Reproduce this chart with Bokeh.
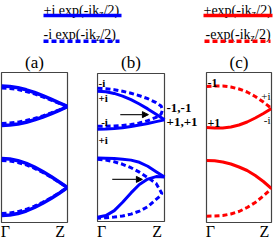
from bokeh.plotting import figure
from bokeh.layouts import column, row
from bokeh.models import Label, Arrow, NormalHead, FixedTicker, Range1d
from bokeh.core.properties import value
from bokeh.embed import file_html
from bokeh.resources import INLINE

FONT = "Liberation Serif"
BLUE = "#0000ff"
RED = "#ff0000"

# ---------------- data (k from Gamma=0 to Z=1, energy in arbitrary units) -------------
K = [0, 0.125, 0.25, 0.375, 0.5, 0.625, 0.75, 0.875, 1.0]
TICK_POS = [0.06, 0.89]
TICK_LABELS = ["Γ", "Z"]
PANEL_TITLES = ["(a)", "(b)", "(c)"]
E_MIN, E_MAX = 0, 15

# panel (a)
a_up_top = [13.65, 13.61, 13.48, 13.27, 13.0, 12.68, 12.33, 11.97, 11.6]
a_up_bot = [9.7, 9.74, 9.85, 10.03, 10.27, 10.55, 10.87, 11.22, 11.6]
a_up_dtop = [13.45, 13.41, 13.3, 13.1, 12.86, 12.57, 12.25, 11.92, 11.6]
a_up_dbot = [9.9, 9.94, 10.04, 10.2, 10.41, 10.66, 10.95, 11.26, 11.6]
a_lo_top = [6.4, 6.35, 6.18, 5.92, 5.55, 5.1, 4.6, 4.05, 3.5]
a_lo_bot = [0.7, 0.75, 0.9, 1.15, 1.5, 1.92, 2.4, 2.93, 3.5]
a_lo_dtop = [6.2, 6.15, 6.0, 5.76, 5.42, 5.0, 4.53, 4.02, 3.5]
a_lo_dbot = [0.9, 0.95, 1.09, 1.32, 1.63, 2.02, 2.47, 2.97, 3.5]

# panel (b)
b_up_top = [13.2, 13.15, 12.98, 12.71, 12.35, 11.91, 11.41, 10.87, 10.3]
b_up_bot = [9.35, 9.37, 9.42, 9.5, 9.62, 9.77, 9.94, 10.12, 10.3]
b_up_dash_k = [0, 0.125, 0.25, 0.375, 0.5, 0.625, 0.75, 0.875, 0.95, 0.97,
               0.95, 0.875, 0.75, 0.625, 0.5, 0.375, 0.25, 0.125, 0]
b_up_dash_e = [13.5, 13.46, 13.36, 13.2, 13.0, 12.75, 12.45, 12.05, 11.7, 11.3,
               10.9, 10.55, 10.22, 9.98, 9.83, 9.74, 9.69, 9.66, 9.65]
b_lo_top = [6.43, 6.42, 6.38, 6.32, 6.22, 6.0, 5.6, 5.05, 4.5]
b_lo_bot = [0.43, 0.6, 1.1, 1.95, 2.9, 3.75, 4.3, 4.55, 4.5]
b_lo_dash_k = [0, 0.125, 0.25, 0.375, 0.5, 0.625, 0.75, 0.875, 0.94, 0.96,
               0.94, 0.875, 0.75, 0.625, 0.5, 0.375, 0.25, 0.125, 0]
b_lo_dash_e = [6.3, 6.22, 6.05, 5.8, 5.45, 5.0, 4.45, 3.85, 3.1, 2.85,
               2.6, 2.25, 1.5, 1.05, 0.75, 0.56, 0.45, 0.38, 0.33]
b_arrow_k0 = [0.34, 0.22]
b_arrow_k1 = [0.76, 0.67]
b_arrow_e = [10.83, 4.27]
b_labels = ["-i", "+i", "-i", "+i"]
b_labels_k = [0.0, 0.0, 0.04, 0.0]
b_labels_e = [14.0, 12.5, 10.1, 8.3]
b_side_labels = ["-1,-1", "+1,+1"]
b_side_e = [11.5, 10.1]

# panel (c)
c_up_dtop = [13.6, 13.65, 13.65, 13.55, 13.35, 13.05, 12.6, 12.05, 11.4]
c_up_sbot = [9.5, 9.45, 9.45, 9.55, 9.75, 10.05, 10.45, 10.9, 11.4]
c_lo_stop = [6.2, 6.17, 6.05, 5.85, 5.55, 5.2, 4.7, 4.1, 3.4]
c_lo_dbot = [0.63, 0.65, 0.7, 0.85, 1.1, 1.5, 2.0, 2.65, 3.4]
c_left_labels = ["-1", "+1"]
c_left_e = [14.0, 10.0]
c_right_labels = ["+i", "-i"]
c_right_e = [12.7, 10.3]

# legend
LEG_L = ["+i exp(-ik", "-i exp(-ik"]
LEG_R = ["+exp(-ik", "-exp(-ik"]
LEG_SUB = "z"
LEG_END = "/2)"

# --------------------------------------------------------------------------------------
DASH = "5 3"
LW = 3
BOX = "#444444"
PANEL_H = 194

# Times / Liberation Serif advance widths (em)
W = {'+': 0.564, '-': 0.333, 'i': 0.278, ' ': 0.25, 'e': 0.444, 'x': 0.5, 'p': 0.5,
     '(': 0.333, ')': 0.333, 'k': 0.5, 'z': 0.444, '/': 0.278, '2': 0.5, 'a': 0.444,
     'b': 0.5, 'c': 0.444}


def tw(s, size):
    return sum(W[c] for c in s) * size


def panel(w, bl, br, bt, bb, xr, yr, title, title_align="center", title_offset=0):
    p = figure(width=w, height=PANEL_H, x_range=xr, y_range=yr,
               output_backend="svg", toolbar_location=None, y_axis_location=None,
               min_border_left=bl, min_border_right=br, min_border_top=bt,
               min_border_bottom=bb)
    p.grid.visible = False
    p.outline_line_color = BOX
    p.outline_line_width = 1.2
    p.background_fill_color = "white"
    p.border_fill_color = "white"
    p.title.text = title
    p.title.align = title_align
    p.title.offset = title_offset
    p.title.text_font = FONT
    p.title.text_font_size = "17px"
    p.title.text_font_style = "normal"
    p.title.text_color = "black"
    p.title.standoff = 1
    ax = p.xaxis[0]
    ax.ticker = FixedTicker(ticks=TICK_POS)
    ax.major_label_overrides = {TICK_POS[0]: TICK_LABELS[0], TICK_POS[1]: TICK_LABELS[1]}
    ax.axis_line_color = None
    ax.major_tick_line_color = None
    ax.minor_tick_line_color = None
    ax.major_tick_out = 0
    ax.major_tick_in = 0
    ax.major_label_text_font = FONT
    ax.major_label_text_font_size = "16px"
    ax.major_label_text_color = "black"
    ax.major_label_standoff = 0
    return p


# panel a : box at x 1..67, y 72..222
fa = panel(82, 1, 15, 24, 20, Range1d(0, 1), Range1d(E_MIN, E_MAX), PANEL_TITLES[0])
for ys in (a_up_top, a_up_bot, a_lo_top, a_lo_bot):
    fa.line(K, ys, line_color=BLUE, line_width=LW + 0.5)
for ys in (a_up_dtop, a_up_dbot, a_lo_dtop, a_lo_dbot):
    fa.line(K, ys, line_color=BLUE, line_width=LW, line_dash=DASH)

# panel b : box at x 97..164 (frame extended to the right for the side labels)
px_per_k = 67.0
b_frame_w = 106
xr_b = Range1d(-1 / px_per_k, (b_frame_w - 1) / px_per_k)
yr_b = Range1d(E_MIN - 0.1, E_MAX + 0.1)
b_title_off = 1 + px_per_k / 2 - tw("(b)", 17) / 2
fb = panel(120, 14, 0, 23, 19, xr_b, yr_b, PANEL_TITLES[1], "left", b_title_off)
fb.outline_line_color = None
fb.quad(left=[0], right=[1], bottom=[E_MIN], top=[E_MAX], fill_color=None,
        line_color=BOX, line_width=1.2)
for ys in (b_up_top, b_up_bot, b_lo_top, b_lo_bot):
    fb.line(K, ys, line_color=BLUE, line_width=LW)
fb.line(b_up_dash_k, b_up_dash_e, line_color=BLUE, line_width=LW, line_dash=DASH)
fb.line(b_lo_dash_k, b_lo_dash_e, line_color=BLUE, line_width=LW, line_dash=DASH)
for k0, k1, e in zip(b_arrow_k0, b_arrow_k1, b_arrow_e):
    fb.add_layout(Arrow(end=NormalHead(size=6, fill_color="black", line_color="black",
                                       line_width=1),
                        x_start=k0, y_start=e, x_end=k1, y_end=e,
                        line_color="#222222", line_width=1.2))
for t, k, e in zip(b_labels, b_labels_k, b_labels_e):
    fb.add_layout(Label(x=k, y=e, text=t, x_offset=1, text_align="left",
                        text_baseline="middle", text_font=FONT, text_font_size="11px",
                        text_font_style="bold", text_color="black"))
for t, e in zip(b_side_labels, b_side_e):
    fb.add_layout(Label(x=1.0, y=e, text=t, x_offset=2, text_align="left",
                        text_baseline="middle", text_font=FONT, text_font_size="13px",
                        text_font_style="bold", text_color="black"))

# panel c : box at x 206..271
fc = panel(71, 4, 2, 24, 20, Range1d(0, 1), Range1d(E_MIN, E_MAX), PANEL_TITLES[2])
fc.line(K, c_up_dtop, line_color=RED, line_width=LW, line_dash=DASH)
fc.line(K, c_up_sbot, line_color=RED, line_width=LW)
fc.line(K, c_lo_stop, line_color=RED, line_width=LW)
fc.line(K, c_lo_dbot, line_color=RED, line_width=LW, line_dash=DASH)
for t, e in zip(c_left_labels, c_left_e):
    fc.add_layout(Label(x=0.0, y=e, text=t, x_offset=1, text_align="left",
                        text_baseline="middle", text_font=FONT, text_font_size="12px",
                        text_font_style="bold", text_color="black"))
for t, e in zip(c_right_labels, c_right_e):
    fc.add_layout(Label(x=1.0, y=e, text=t, x_offset=-1, text_align="right",
                        text_baseline="middle", text_font=FONT, text_font_size="11px",
                        text_color="black"))

# legend strip (coordinates in pixels, y downward)
leg = figure(width=273, height=48, x_range=Range1d(0, 273), y_range=Range1d(48, 0),
             output_backend="svg", toolbar_location=None, x_axis_location=None,
             y_axis_location=None, min_border=0, outline_line_color=None)
leg.grid.visible = False

FS, FSUB = 14, 10
lx = [43, 43]
rx = [203, 205]
base = [10, 34.3]
tx, ty, tt = [], [], []
sx, sy = [], []
ex, ey = [], []
for x0, texts in ((lx, LEG_L), (rx, LEG_R)):
    for i, s in enumerate(texts):
        tx.append(x0[i]); ty.append(base[i]); tt.append(s)
        xz = x0[i] + tw(s, FS)
        sx.append(xz); sy.append(base[i] + 3)
        ex.append(xz + tw(LEG_SUB, FSUB)); ey.append(base[i])
leg.text(tx, ty, text=tt, text_font=value(FONT), text_font_size="14px",
         text_baseline="alphabetic", text_align="left", text_color="black")
leg.text(sx, sy, text=[LEG_SUB] * 4, text_font=value(FONT), text_font_size="10px",
         text_baseline="alphabetic", text_align="left", text_color="black")
leg.text(ex, ey, text=[LEG_END] * 4, text_font=value(FONT), text_font_size="14px",
         text_baseline="alphabetic", text_align="left", text_color="black")
leg.line([43, 121], [15, 15], line_color=BLUE, line_width=3.5)
leg.line([43, 119], [40.7, 40.7], line_color=BLUE, line_width=3.5, line_dash=DASH)
leg.line([203, 272], [15, 15], line_color=RED, line_width=3.5)
leg.line([204, 270], [40.7, 40.7], line_color=RED, line_width=3.5, line_dash=DASH)

root = column(leg, row(fa, fb, fc))
open("out.html", "w").write(file_html(root, INLINE, title="bands"))
